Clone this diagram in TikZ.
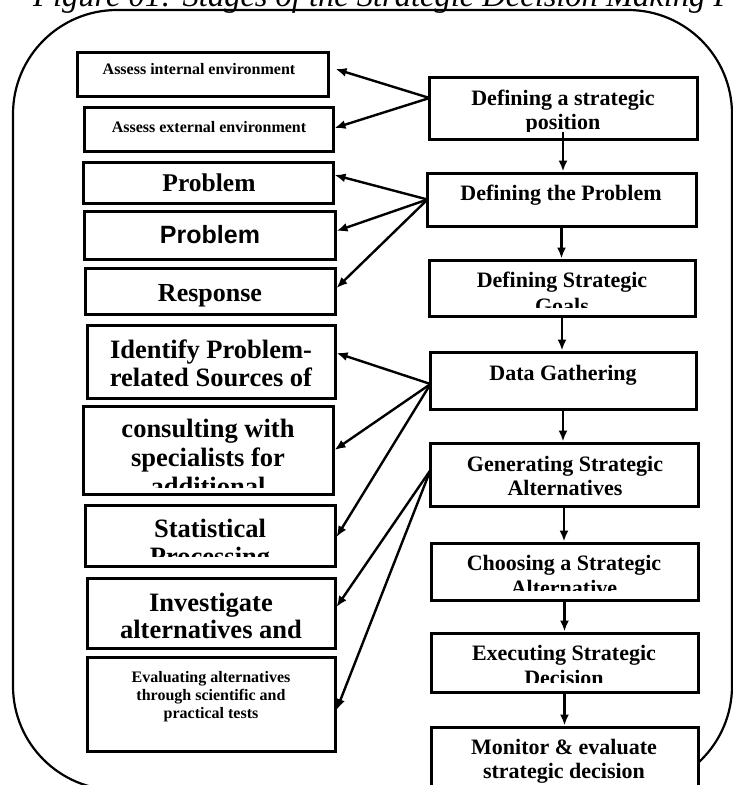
\documentclass[tikz,border=0pt]{standalone}
\usepackage{fontspec}
\setmainfont{Liberation Serif}
\newfontfamily\arialfont{Liberation Sans}
\usetikzlibrary{arrows.meta}
\tikzset{
  bx/.style={draw=black, line width=3pt, fill=white, inner sep=0pt, rectangle},
  arr/.style={line width=2.4pt, -{Latex[length=11pt,width=9pt]}},
  txt/.style={anchor=base, inner sep=0pt},
  rtxt/.style={txt, font=\fontsize{22}{26}\selectfont\bfseries},
  btxt/.style={txt, font=\fontsize{26.5}{28}\selectfont\bfseries},
  stxt/.style={txt, font=\fontsize{16}{18}\selectfont\bfseries},
  frame/.style={draw=black, line width=2.2pt, rounded corners=104pt},
}
\newcommand\mkbox[5]{\node[bx, minimum width={(#4)-(#2)}, minimum height={(#5)-(#3)}] (#1) at ({((#2)+(#4))/2},{((#3)+(#5))/2}) {};}
\begin{document}
\begin{tikzpicture}[x=1pt,y=-1pt]
\useasboundingbox (0,0) rectangle (733,785);
\clip (0,0) rectangle (733,785);
% title (cut off at the top)
\node[anchor=base west, inner sep=0pt, font=\fontsize{32.5}{36}\selectfont\itshape] (title) at (33,6) {Figure 01: Stages of the Strategic Decision Making Process};
% outer frame
\path[frame] (13,10) rectangle (732,790);
% right column
\mkbox{dp}{429}{77}{697}{139}
\mkbox{dtp}{427}{173}{696}{226}
\mkbox{goals}{429}{260}{695}{316}
\mkbox{data}{430}{352}{696}{409}
\mkbox{gen}{430}{443}{698}{506}
\mkbox{cho}{431}{543}{698}{600}
\mkbox{exe}{431}{633}{698}{692}
\mkbox{mon}{431}{727}{698}{800}
% left column
\mkbox{int}{77}{52}{328}{96}
\mkbox{ext}{84}{107}{333}{151}
\mkbox{pra}{83}{162}{333}{203}
\mkbox{prb}{84}{211}{335}{259}
\mkbox{resp}{85}{268}{335}{314}
\mkbox{iden}{87}{325}{335}{398}
\mkbox{cons}{83}{406}{333}{494}
\mkbox{stat}{85}{505}{335}{566}
\mkbox{inv}{87}{578}{335}{648}
\mkbox{eval}{87}{657}{335}{751}
% texts, right column
\begin{scope}
\clip (432,80) rectangle (694,131);
\node[rtxt] (dpA) at (563,105) {Defining a strategic};
\node[rtxt] (dpB) at (563,129) {position};
\end{scope}
\node[rtxt] (dtpA) at (561,200) {Defining the Problem};
\begin{scope}
\clip (432,263) rectangle (692,307);
\node[rtxt] (goalsA) at (562,287) {Defining Strategic};
\node[rtxt] (goalsB) at (562,313) {Goals};
\end{scope}
\node[rtxt] (dataA) at (563,380) {Data Gathering};
\begin{scope}
\clip (433,446) rectangle (695,500);
\node[rtxt] (genA) at (565,471) {Generating Strategic};
\node[rtxt] (genB) at (565,495) {Alternatives};
\end{scope}
\begin{scope}
\clip (434,546) rectangle (695,590);
\node[rtxt] (choA) at (564,570) {Choosing a Strategic};
\node[rtxt] (choB) at (564,595) {Alternative};
\end{scope}
\begin{scope}
\clip (434,636) rectangle (695,682);
\node[rtxt] (exeA) at (564,660) {Executing Strategic};
\node[rtxt] (exeB) at (564,685) {Decision};
\end{scope}
\node[rtxt] (monA) at (564,754) {Monitor \& evaluate};
\node[rtxt] (monB) at (564,778) {strategic decision};
% texts, left column
\node[stxt] (intA) at (199,74) {Assess internal environment};
\node[stxt] (extA) at (209,132) {Assess external environment};
\node[txt, font=\fontsize{25.5}{28}\selectfont\bfseries] (praA) at (209,191) {Problem};
\node[txt, font=\fontsize{25}{28}\selectfont\arialfont\bfseries] (prbA) at (210,243) {Problem};
\node[txt, font=\fontsize{26}{28}\selectfont\bfseries] (respA) at (210,301) {Response};
\node[btxt] (idenA) at (211,358) {Identify Problem-};
\node[btxt] (idenB) at (211,386) {related Sources of};
\begin{scope}
\clip (86,409) rectangle (330,487);
\node[btxt] (consA) at (208,437) {consulting with};
\node[btxt] (consB) at (208,466) {specialists for};
\node[btxt] (consC) at (208,495) {additional};
\end{scope}
\begin{scope}
\clip (88,508) rectangle (332,556);
\node[btxt] (statA) at (210,537) {Statistical};
\node[btxt] (statB) at (210,565) {Processing};
\end{scope}
\node[btxt] (invA) at (211,611) {Investigate};
\node[btxt] (invB) at (211,638) {alternatives and};
\node[stxt] (evalA) at (211,682) {Evaluating alternatives};
\node[stxt] (evalB) at (211,700) {through scientific and};
\node[stxt] (evalC) at (211,718) {practical tests};
% vertical arrows
\draw[arr] ([yshift=9pt]dp.south) -- (dp.south |- dtp.north);
\draw[arr] (dtp.south) -- (dtp.south |- goals.north);
\draw[arr] (goals.south) -- (goals.south |- data.north);
\draw[arr] (data.south) -- (data.south |- gen.north);
\draw[arr] (gen.south) -- (gen.south |- cho.north);
\draw[arr] (cho.south) -- (cho.south |- exe.north);
\draw[arr] (exe.south) -- (exe.south |- mon.north);
% fan-out arrows
\draw[arr] ([xshift=2pt,yshift=10pt]dp.west) -- ([xshift=6pt,yshift=5pt]int.east);
\draw[arr] ([xshift=2pt,yshift=10pt]dp.west) -- ([yshift=1pt]ext.east);
\draw[arr] ([xshift=2pt]dtp.west) -- ([yshift=7.5pt]pra.east);
\draw[arr] ([xshift=2pt]dtp.west) -- ([yshift=4pt]prb.east);
\draw[arr] ([xshift=2pt]dtp.west) -- ([yshift=3pt]resp.east);
\draw[arr] ([xshift=2pt,yshift=-3.5pt]data.west) -- ([yshift=8.5pt]iden.east);
\draw[arr] ([xshift=2pt,yshift=-3.5pt]data.west) -- (cons.east);
\draw[arr] ([xshift=2pt,yshift=-3.5pt]data.west) -- ([yshift=-1.5pt]stat.east);
\draw[arr] ([xshift=2pt,yshift=4.5pt]gen.west) -- ([yshift=6pt]inv.east);
\draw[arr] ([xshift=2pt,yshift=4.5pt]gen.west) -- ([yshift=-6pt]eval.east);
\end{tikzpicture}
\end{document}
